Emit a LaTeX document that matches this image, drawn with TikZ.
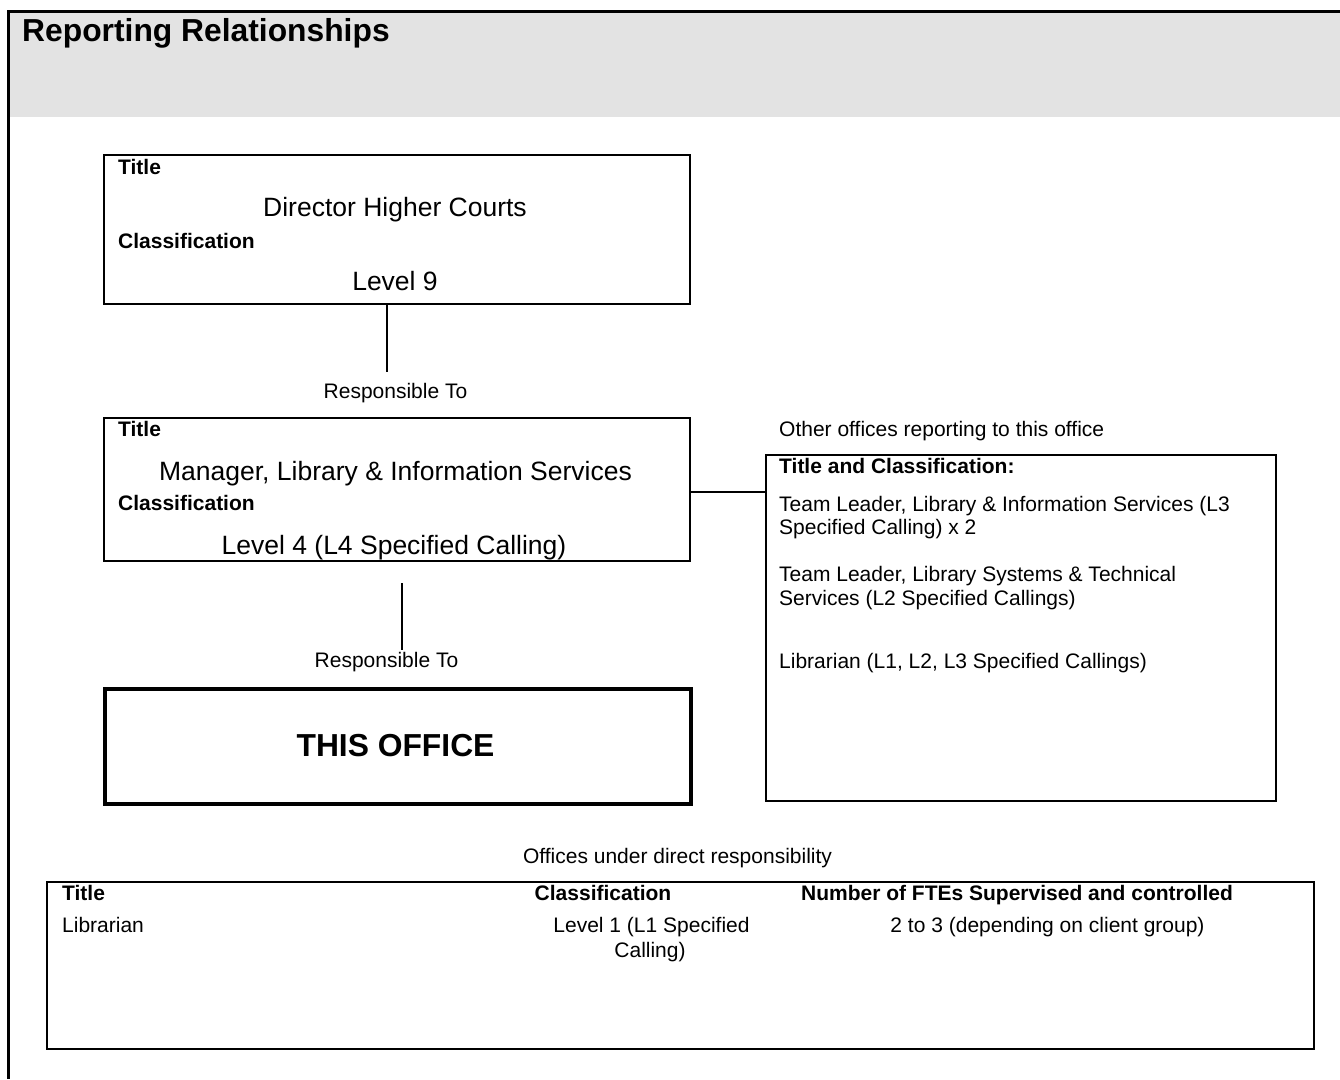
\documentclass[tikz,border=0pt]{standalone}
\usepackage{fontspec}
\setmainfont{Liberation Sans}
\usepackage{xcolor}
\definecolor{banner}{RGB}{227,227,227}
\newcommand{\txtsmall}{\fontsize{21}{24}\selectfont}
\newcommand{\txtlarge}{\fontsize{26.5}{30}\selectfont}
\newcommand{\txthuge}{\fontsize{31.8}{36}\selectfont\bfseries}

\begin{document}
\begin{tikzpicture}[x=1pt, y=-1pt,
    lbl/.style={inner sep=0pt, font=\txtsmall},
    head/.style={inner sep=0pt, font=\txtsmall\bfseries},
    big/.style={inner sep=0pt, font=\txtlarge},
    posbox/.style={draw, line width=2pt, inner sep=0pt, anchor=north west},
    link/.style={line width=1.4pt}]
    \useasboundingbox (0,0) rectangle (1340,1079);

    \fill[banner] (10,12) rectangle (1340,117);
    \draw[line width=3pt] (1340,11) -- (8,11) -- (8,1079);
    \node[inner sep=0pt, font=\txthuge, anchor=base west] (heading) at (22,41) {Reporting Relationships};

    \node[posbox, minimum width=586, minimum height=149] (dir) at (103,154) {};
    \node[posbox, minimum width=586, minimum height=143] (mgr) at (103,417) {};
    \node[posbox, line width=3.8pt, minimum width=586, minimum height=115] (office) at (103,687) {};
    \node[posbox, line width=2.2pt, minimum width=510, minimum height=346] (others) at (765,454) {};
    \node[posbox, line width=2.4pt, minimum width=1267, minimum height=167] (subs) at (46,881) {};

    \node[head, anchor=base west] (dirTitle) at (118,174.5) {Title};
    \node[big, anchor=base] (dirName) at (395,216.5) {Director Higher Courts};
    \node[head, anchor=base west] (dirClass) at (118,248.5) {Classification};
    \node[big, anchor=base] (dirLevel) at (395,290.5) {Level 9};

    \node[lbl, anchor=base] (resp1) at (395.5,398.5) {Responsible To};
    \coordinate (resp1top) at (387,372);
    \draw[link] (dir.south -| resp1top) -- (resp1top);

    \node[head, anchor=base west] (mgrTitle) at (118,436.5) {Title};
    \node[big, anchor=base] (mgrName) at (395.5,480.5) {Manager, Library \& Information Services};
    \node[head, anchor=base west] (mgrClass) at (118,510.5) {Classification};
    \node[big, anchor=base] (mgrLevel) at (394,554.5) {Level 4 (L4 Specified Calling)};

    \node[lbl, anchor=base] (resp2) at (386.5,667.5) {Responsible To};
    \coordinate (resp2top) at (402,583);
    \coordinate (resp2bot) at (402,650);
    \draw[link] (resp2top) -- (resp2bot);

    \node[font=\txthuge, inner sep=0pt, anchor=base] (officeName) at (395.5,756) {THIS OFFICE};

    \coordinate (join) at (765,492);
    \draw[link] (mgr.east |- join) -- (others.west |- join);

    \node[lbl, anchor=base west] (othersCap) at (779,436.5) {Other offices reporting to this office};
    \node[head, anchor=base west] (othersHead) at (779,473.5) {Title and Classification:};
    \node[lbl, anchor=base west] (tlA1) at (779,511.5) {Team Leader, Library \& Information Services (L3};
    \node[lbl, anchor=base west] (tlA2) at (779,534.5) {Specified Calling) x 2};
    \node[lbl, anchor=base west] (tlB1) at (779,581.5) {Team Leader, Library Systems \& Technical};
    \node[lbl, anchor=base west] (tlB2) at (779,605.5) {Services (L2 Specified Callings)};
    \node[lbl, anchor=base west] (libs) at (779,668.5) {Librarian (L1, L2, L3 Specified Callings)};

    \node[lbl, anchor=base] (subsCap) at (677.5,863.5) {Offices under direct responsibility};
    \node[head, anchor=base west] (colTitle) at (62,900.5) {Title};
    \node[head, anchor=base] (colClass) at (603,900.5) {Classification};
    \node[head, anchor=base] (colFte) at (1017,900.5) {Number of FTEs Supervised and controlled};
    \node[lbl, anchor=base west] (rowTitle) at (62,932.5) {Librarian};
    \node[lbl, anchor=base] (rowClassA) at (651.5,932.5) {Level 1 (L1 Specified};
    \node[lbl, anchor=base] (rowClassB) at (650,957.5) {Calling)};
    \node[lbl, anchor=base] (rowFte) at (1047.5,932.5) {2 to 3 (depending on client group)};
\end{tikzpicture}
\end{document}
